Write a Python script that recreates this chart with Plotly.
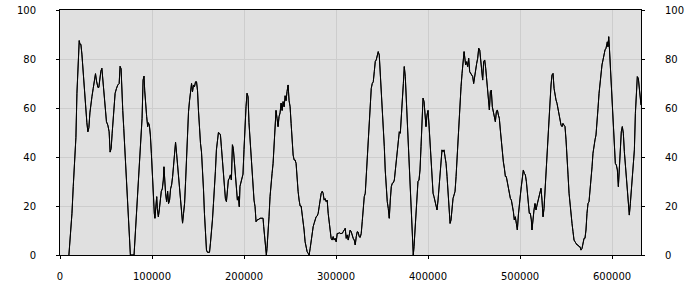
import plotly.graph_objects as go

# x positions (in thousands) and values
x_thousands = [
    9.7, 11.6, 13.0, 14.4, 16.2, 17.3, 18.4, 19.5, 20.2, 20.9, 21.7, 22.7, 23.8, 24.9, 26.0, 27.1, 28.2, 29.2,
    30.3, 31.4, 32.5, 33.6, 34.7, 36.1, 37.5, 38.6, 39.7, 41.2, 42.2, 43.3, 44.4, 45.5, 46.2, 47.3, 48.4, 49.5,
    50.5, 52.0, 53.4, 54.5, 55.6, 56.7, 57.8, 58.8, 59.9, 61.4, 62.8, 64.3, 65.3, 66.4, 67.1, 68.2, 69.3, 70.4,
    71.5, 72.6, 73.6, 74.7, 75.8, 76.5, 80.5, 81.6, 82.7, 83.8, 84.8, 85.9, 87.0, 88.1, 89.2, 90.3, 91.3, 92.1,
    93.1, 94.2, 95.3, 96.0, 97.1, 98.2, 99.3, 100.4, 101.4, 102.5, 103.2, 104.0, 105.1, 105.8, 106.9, 107.9,
    109.0, 110.1, 111.2, 112.3, 113.0, 113.7, 114.8, 115.9, 117.0, 118.0, 119.1, 120.2, 121.3, 122.4, 123.5,
    124.5, 125.6, 126.7, 127.8, 128.9, 130.0, 131.0, 132.1, 133.2, 134.3, 135.4, 136.5, 137.5, 138.6, 139.7,
    140.8, 141.9, 143.0, 144.0, 145.1, 146.2, 147.3, 148.4, 149.5, 150.5, 151.6, 152.7, 153.8, 154.9, 156.0,
    157.0, 158.1, 159.2, 160.3, 161.4, 162.5, 163.5, 164.6, 165.7, 166.8, 167.9, 168.9, 170.0, 171.1, 172.2,
    173.3, 174.4, 175.4, 176.5, 177.6, 178.7, 179.8, 180.9, 181.9, 183.0, 184.1, 185.2, 186.3, 187.4, 188.4,
    189.5, 190.6, 191.7, 192.8, 193.9, 194.9,
    195.6, 196.7, 197.8, 198.9, 200.0, 201.1, 202.2, 203.3, 204.4, 205.4, 206.5, 207.6, 208.7, 209.8, 210.9,
    212.0, 213.1, 214.2, 215.2, 216.3, 217.4, 218.5, 219.6, 220.7, 221.4, 222.5, 223.6, 224.3, 225.0, 226.1,
    227.2, 228.3, 229.4, 230.5, 231.6, 232.7, 233.8, 234.8, 235.9, 237.0, 238.1, 239.2, 240.3, 241.4, 242.5,
    243.6, 244.7, 245.7, 246.8, 247.9, 249.0, 250.1, 251.2, 252.3, 253.4, 254.5, 255.5, 256.6, 257.7, 258.8,
    259.9, 261.0, 262.1, 263.2, 264.3, 265.3, 266.4, 267.5, 268.6, 269.7, 270.8, 271.9, 273.0, 274.1, 275.2,
    276.2, 277.3, 278.4, 279.5, 280.6, 281.7, 282.8, 283.9, 285.0, 286.0, 287.1, 288.2, 289.3, 290.4, 291.5,
    292.6, 293.7, 294.7, 295.8, 296.9, 298.0, 299.1, 300.2, 301.3, 302.4, 303.5, 304.5, 305.6, 306.7, 307.8,
    308.9, 310.0, 311.1, 312.2, 313.3, 314.3, 315.4, 316.5, 317.6, 318.7, 319.8, 320.9, 322.0, 323.1, 324.1,
    325.2, 326.3, 327.4, 328.5, 329.6, 330.7, 331.8, 332.9, 333.9, 335.0, 336.1, 337.2, 338.3, 339.4, 340.5,
    341.6, 342.7, 343.7, 344.8, 345.9, 347.0, 348.1, 349.2, 350.3, 351.4, 352.5, 353.5, 354.6, 355.7, 356.8,
    357.9, 359.0, 360.1, 361.2, 362.3, 363.4, 364.4, 365.5, 366.6, 367.7, 368.8, 369.9, 371.0, 372.1, 373.2,
    374.2, 375.3, 376.4, 377.5, 378.6, 379.7, 380.8, 381.9, 383.0, 384.0, 384.8, 385.9, 387.0, 388.0, 389.1,
    390.2, 391.3, 392.4, 393.5, 394.6, 395.7, 396.7, 397.8, 398.9, 400.0, 401.1, 402.2, 403.3, 404.4, 405.5,
    406.5, 407.6, 408.7, 409.8, 410.9, 412.0, 413.1, 414.2, 415.2, 416.3, 417.4, 418.5, 419.6, 420.7, 421.8,
    422.9, 424.0, 425.0, 426.1, 427.2, 428.3, 429.4, 430.5, 431.6, 432.7, 433.8, 434.8, 435.9, 437.0, 438.1,
    439.2,
    440.9, 442.0, 443.1, 444.2, 445.3, 446.4, 447.5, 448.6, 449.6, 450.7, 451.8, 452.9, 454.0, 455.1, 456.2,
    457.2, 458.3, 459.4, 460.5, 461.6, 462.7, 463.8, 464.9, 465.9, 466.7, 467.8, 468.8, 469.9, 471.0, 472.1,
    473.2, 474.3, 475.4, 476.5, 477.5, 478.6, 479.7, 480.8, 481.9, 483.0, 484.1, 485.1, 486.2, 487.3, 488.4,
    489.5, 490.6, 491.7, 492.8, 493.8, 494.9, 496.0, 497.1, 498.2, 499.3, 500.4, 501.4, 502.5, 503.6, 504.7,
    505.8, 506.9, 508.0, 509.1, 510.1, 511.2, 512.3, 513.0, 514.1, 515.2, 516.3, 517.4, 518.5, 519.6, 520.7,
    521.7, 522.8, 523.9, 525.0, 526.1, 527.2, 528.3, 529.3, 530.4, 531.5, 532.6, 533.7, 534.8, 535.9, 537.0,
    538.0, 539.1, 540.2, 541.3, 542.4, 543.5, 544.6, 545.7, 546.7, 547.8, 548.9, 550.0, 551.1, 552.2, 553.3,
    554.3, 555.4, 556.5, 557.6, 558.7, 559.8, 560.9, 562.0, 563.0, 564.1, 565.2, 566.3, 567.4, 568.5, 569.6,
    570.6, 571.7, 572.8, 573.9, 575.0, 576.1, 577.2, 578.3, 579.3, 580.4, 581.5, 582.6, 583.7, 584.8, 585.9,
    586.9, 588.0, 589.1, 590.2, 591.3, 592.4, 593.5, 594.2, 594.9, 595.6, 596.4, 597.1, 598.2, 599.3, 600.4,
    601.4, 602.5, 603.6, 604.7, 605.8, 606.9, 608.0, 609.1, 610.1, 611.2, 612.3, 613.4, 614.5, 615.6, 616.7,
    617.7, 618.8, 619.9, 621.0, 622.1, 623.2, 624.3, 625.4, 626.4, 627.5, 628.6, 629.7, 630.8, 631.5,
]

values = [
    0, 8.8, 17, 28, 39, 48, 66, 76, 84, 87.5, 86, 86, 82, 75.5, 71, 65, 58, 54,
    50.3, 52, 58, 62, 64.6, 68, 71.4, 74, 71, 68.4, 68.4, 72, 75, 76.2, 73, 67, 62.6, 58,
    54.4, 53, 50.3, 42, 43.5, 49.7, 55.8, 62, 66, 68, 69.4, 70, 77, 76, 67, 59, 51.7, 44,
    35.4, 26, 19, 11.6, 3.4, 0, 0, 7.5, 15, 21, 28, 36, 40.8, 47, 55.8, 71.4, 73, 67,
    60, 56.5, 52.4, 54, 53, 49, 41.5, 30.6, 22.4, 17, 15, 19.7, 23.8, 19, 15.6, 18.4,
    22.4, 26, 27, 30.6, 36, 31, 25, 21.8, 26, 21, 22.4, 27, 28.6, 32, 36.7,
    42, 46, 41.5, 36.7, 32, 28.6, 23.8, 17, 13, 17, 21, 30, 39.5, 49.7, 58.5,
    63, 67, 70, 66.6, 69.4, 68.7, 70.7, 70.7, 67, 59, 50.3, 45.6, 42, 35.4, 26.5,
    17, 7.5, 2, 1.1, 1.1, 1.1, 4.8, 8.8, 14.3, 21, 26.5, 34, 42.9, 48.3, 50,
    49.7, 49, 44.2, 38, 33.3, 27.9, 23, 21.8, 26.5, 30.6, 31.3, 32.7, 30.6, 45, 43.5,
    38, 30.6, 23.8, 22.4, 23.8, 19.7,
    28, 30, 31, 33, 43, 56.5, 60.5, 66, 64.6, 54, 47, 39, 33, 26.5, 22.4,
    19.7, 13.6, 14.3, 14.3, 14.6, 15, 15, 15, 15, 11.6, 6.8, 3.4, 0, 2.7, 7.5,
    15.6, 23.8, 30, 33.3, 37.4, 46, 53.7, 59, 55.8, 52.4, 56.5, 58, 62, 59, 62.6,
    60.5, 65, 63, 66.7, 69.4, 63, 60.5, 53.7, 47, 40.8, 38.8, 38.8, 37.4, 30, 26,
    22.4, 20, 20, 17, 14.3, 10.2, 5.4, 2.7, 1.4, 0.7, 0, 2.7, 6.1, 8.8, 11.6,
    12.9, 14.3, 15.6, 15.9, 17, 19.7, 23.5, 25.2, 26, 25.2, 22.4, 23, 21.8, 22.4, 17,
    13, 9.5, 6.8, 6.1, 7.5, 6.1, 6.8, 5.4, 8.8, 8.8, 9.1, 8.8, 8.8, 8.8, 9.5,
    10.5, 10.9, 6.8, 8.2, 6.1, 8.2, 10.2, 9.5, 7.5, 6.8, 6.1, 4.1, 7.5, 9.5, 9.3,
    7.5, 7.2, 8.8, 13.6, 19.7, 23.8, 25.2, 32.7, 41.5, 49.7, 58.5, 64.6, 68, 70, 70.7,
    74.8, 79, 79.6, 81, 83, 81.6, 74.8, 67.3, 61.2, 53, 44.2, 34.7, 27.2, 21.8, 19,
    15, 22.4, 27.9, 29.3, 29.5, 30.6, 34.7, 40.1, 44.2, 47, 50.3, 49.7, 55.1, 63.3, 70,
    76.9, 72.8, 63.3, 55.1, 47, 37.4, 27.9, 17, 7.5, 0, 3.4, 10.2, 19.7, 26, 30,
    30.6, 34.7, 44.2, 52.4, 64, 62.6, 57.8, 52.4, 57.1, 59, 53, 45.6, 37.4, 31.3, 25.2,
    23.8, 21.8, 20.4, 18.4, 22.4, 28.6, 34, 40.8, 42.9, 42.2, 42.9, 40.1, 37.4, 32, 23.8,
    17, 12.9, 14.3, 19.7, 23.1, 24.5, 26, 32, 40.8, 48.3, 57.8, 64.6, 68.7, 74.1, 79.6,
    83,
    77.6, 78.9, 76.9, 80.3, 74.8, 74.1, 73.5, 72.8, 70, 73.5, 76.2, 78.2, 80.3, 84.4, 83.7,
    80.3, 74.8, 71.4, 78.9, 79.6, 76.2, 72.1, 68, 62.6, 59.2, 66.7, 67.3, 60.5, 58.5, 56.5,
    54.4, 58.5, 59.2, 57.1, 55.8, 51, 45.6, 40.8, 38, 35.4, 32, 32, 30, 27.9, 24.5,
    23.1, 22.4, 20.4, 17.7, 14.3, 15.6, 12.9, 10.2, 16.3, 21.8, 24.5, 27.9, 32, 34.7, 33.3,
    32.7, 30, 25.2, 21, 17, 17, 14.3, 10.2, 15.6, 18.4, 21, 18.4, 20.4, 22.4, 24.5,
    25.2, 27.2, 22.4, 15.6, 19, 26.5, 37.4, 44.2, 49.7, 57.8, 65.3, 69.4, 73.5, 74.1, 68,
    65.3, 63.3, 61.9, 59.2, 57.1, 53.7, 53, 52.4, 53.7, 53, 52.4, 47, 41.5, 32.7, 25.2,
    20.4, 16.3, 12.9, 9.5, 6.1, 5.4, 4.8, 4.1, 4.1, 3.4, 3.4, 2, 2.7, 4.8, 6.8,
    6.8, 10.2, 17, 21, 21.8, 25.9, 31.3, 36, 41.5, 45.6, 47, 49, 53, 59.9, 66,
    70, 74.8, 77.6, 79.6, 82.3, 83.7, 84.4, 86.4, 87, 85, 89.1, 85, 76.9, 67.3, 59.2,
    48.3, 44.2, 37.4, 36.7, 34.7, 27.9, 37.4, 46.3, 50.3, 52.4, 49.7, 42.2, 36, 32.7, 26.5,
    19.7, 16.3, 21, 26.5, 32, 37.4, 42.9, 57.8, 67.3, 72.8, 72.1, 67.3, 61.9, 61.2,
]

x_tick_vals = [0, 100000, 200000, 300000, 400000, 500000, 600000]
y_tick_vals = [0, 20, 40, 60, 80, 100]

x = [v * 1000 for v in x_thousands]

font = dict(family="DejaVu Sans", size=10, color="#000000")
grid = "#cdcdcd"

fig = go.Figure()
fig.add_trace(go.Scatter(x=x, y=values, mode="lines",
                         line=dict(color="#000000", width=1), showlegend=False))
fig.add_trace(go.Scatter(x=x, y=values, mode="lines", yaxis="y2",
                         line=dict(color="#000000", width=1), showlegend=False,
                         hoverinfo="skip"))

fig.update_layout(
    width=700, height=300,
    margin=dict(l=60, r=59, t=10, b=45, autoexpand=False),
    paper_bgcolor="#ffffff",
    plot_bgcolor="#e0e0e0",
    font=font,
    showlegend=False,
    xaxis=dict(range=[0, 631500], tickvals=x_tick_vals,
               ticktext=[str(v) for v in x_tick_vals], automargin=False,
               showgrid=True, gridcolor=grid, gridwidth=1, zeroline=False,
               showline=True, linecolor="#000000", linewidth=1, mirror=True,
               ticks="outside", ticklen=3, tickcolor="#000000",
               ticklabelstandoff=9, tickfont=font),
    yaxis=dict(range=[0, 100], tickvals=y_tick_vals, automargin=False,
               showgrid=True, gridcolor=grid, gridwidth=1, zeroline=False,
               showline=True, linecolor="#000000", linewidth=1, mirror=True,
               ticks="outside", ticklen=3, tickcolor="#000000",
               ticklabelstandoff=18, tickfont=font),
    yaxis2=dict(range=[0, 100], tickvals=y_tick_vals, overlaying="y", side="right",
                automargin=False,
                showgrid=False, zeroline=False,
                showline=True, linecolor="#000000", linewidth=1,
                ticks="outside", ticklen=3, tickcolor="#000000",
                ticklabelstandoff=18, tickfont=font),
)

fig.write_html("out.html")
